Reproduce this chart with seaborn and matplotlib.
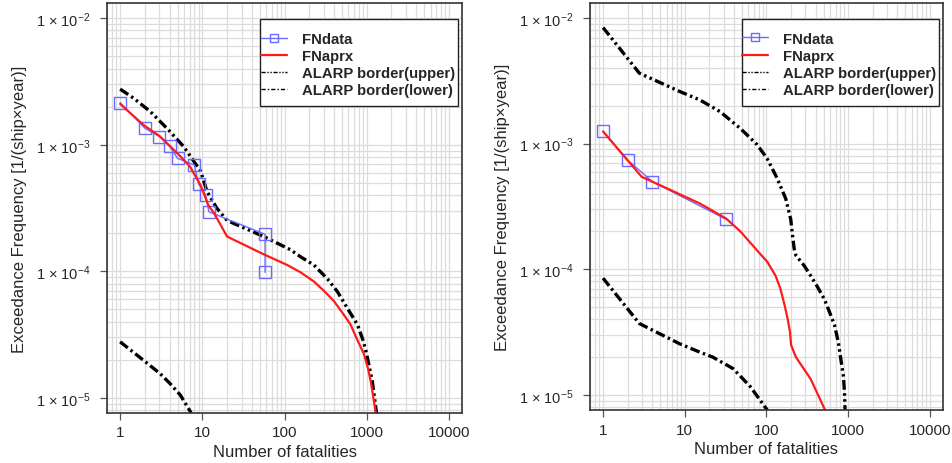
import numpy as np
import pandas as pd
import matplotlib
matplotlib.use("Agg")
import matplotlib.pyplot as plt
from matplotlib.lines import Line2D
from matplotlib.patches import Rectangle
from matplotlib.ticker import LogLocator, NullFormatter
import seaborn as sns

# ---------------- data ----------------
# Left panel
fn_x_left = [1, 2, 3, 4, 5, 8, 9, 11, 12, 58, 58]
fn_y_left = [2.15e-3, 1.35e-3, 1.16e-3, 9.7e-4, 7.8e-4, 6.9e-4, 4.9e-4, 4.0e-4, 2.95e-4, 1.96e-4, 9.8e-5]

aprx_x_left = [1, 1.93, 3.07, 4.07, 5.4, 7.1, 9.5, 11.9, 13.8, 20, 56, 108, 157, 228, 302, 400,
               531, 635, 771, 930, 1038, 1120, 1200, 1295]
aprx_y_left = [2.1e-3, 1.43e-3, 1.16e-3, 9.7e-4, 8.1e-4, 6.7e-4, 4.8e-4, 3.3e-4, 2.9e-4, 1.88e-4,
               1.36e-4, 1.12e-4, 9.8e-5, 8.3e-5, 7.0e-5, 5.8e-5,
               4.5e-5, 3.8e-5, 2.86e-5, 2.2e-5, 1.7e-5, 1.35e-5, 1.02e-5, 7.5e-6]

upper_x_left = [1, 1.46, 2.32, 3.7, 5.9, 9.5, 11.4, 15, 20, 56, 118, 157, 228, 333, 440, 582,
                770, 912, 1000, 1170, 1320]
upper_y_left = [2.75e-3, 2.33e-3, 1.83e-3, 1.35e-3, 9.7e-4, 6.2e-4, 4.27e-4, 3.15e-4, 2.52e-4, 1.88e-4,
                1.48e-4, 1.3e-4, 1.12e-4, 8.7e-5, 6.9e-5, 5.1e-5,
                3.8e-5, 2.8e-5, 2.2e-5, 1.35e-5, 7.5e-6]

lower_x_left = [1, 1.92, 3.07, 4.07, 5.4, 7.3]
lower_y_left = [2.77e-5, 1.98e-5, 1.55e-5, 1.29e-5, 1.05e-5, 7.6e-6]

# Right panel
fn_x_right = [1, 2, 4, 32]
fn_y_right = [1.26e-3, 7.4e-4, 5.0e-4, 2.5e-4]

aprx_x_right = [1, 1.95, 2.97, 15.3, 32, 48, 80, 102, 129, 148, 167, 182, 194, 200, 229, 347, 520]
aprx_y_right = [1.25e-3, 7.5e-4, 5.45e-4, 3.34e-4, 2.54e-4, 2.0e-4, 1.37e-4, 1.15e-4, 8.9e-5, 7.0e-5,
                5.15e-5, 4.0e-5, 3.16e-5, 2.5e-5, 2.0e-5, 1.34e-5, 7.6e-6]

upper_x_right = [1, 2.78, 8.7, 15.3, 27, 48, 77, 102, 135, 172, 198, 207, 218, 229, 289, 347, 423,
                 510, 588, 680, 759, 815, 875, 900, 915]
upper_y_right = [8.4e-3, 3.64e-3, 2.6e-3, 2.23e-3, 1.8e-3, 1.32e-3, 9.8e-4, 7.6e-4, 5.3e-4, 3.65e-4,
                 2.5e-4, 1.92e-4, 1.46e-4, 1.29e-4, 1.07e-4, 8.9e-5, 7.2e-5,
                 5.8e-5, 4.6e-5, 3.6e-5, 2.6e-5, 1.9e-5, 1.4e-5, 1.05e-5, 7.6e-6]

lower_x_right = [1, 2.78, 8.7, 15.3, 22, 39, 63, 102]
lower_y_right = [8.5e-5, 3.7e-5, 2.55e-5, 2.19e-5, 2.0e-5, 1.62e-5, 1.17e-5, 7.6e-6]

x_ticks = [1, 10, 100, 1000, 10000]
x_tick_labels = ["1", "10", "100", "1000", "10000"]
y_ticks = [1e-5, 1e-4, 1e-3, 1e-2]
y_tick_labels = ["1 \u00d7 10$^{-5}$", "1 \u00d7 10$^{-4}$", "1 \u00d7 10$^{-3}$", "1 \u00d7 10$^{-2}$"]

legend_labels = ["FNdata", "FNaprx", "ALARP border(upper)", "ALARP border(lower)"]
x_label = "Number of fatalities"
y_label = "Exceedance Frequency [1/(ship\u00d7year)]"

# ---------------- style ----------------
sns.set_theme(style="white")
plt.rcParams["font.family"] = ["Liberation Sans", "DejaVu Sans"]
plt.rcParams["mathtext.fontset"] = "custom"
plt.rcParams["mathtext.rm"] = "Liberation Sans"
plt.rcParams["mathtext.it"] = "Liberation Sans:italic"
plt.rcParams["mathtext.bf"] = "Liberation Sans:bold"
plt.rcParams["mathtext.default"] = "regular"
plt.rcParams["lines.scale_dashes"] = False

BLUE = "#6b6bff"
RED = "#ff1a1a"
TXT = "#262626"
UPPER_LS = (0, (7, 2.5, 1.8, 2.5, 1.8, 2.5))
LOWER_LS = (0, (7, 2.5, 1.8, 2.5))

fig = plt.figure(figsize=(9.53, 4.64), dpi=100)
ax_l = fig.add_axes([0.1123, 0.1078, 0.3725, 0.8836])
ax_r = fig.add_axes([0.6191, 0.1142, 0.3704, 0.8772])

panels = [
    (ax_l, fn_x_left, fn_y_left, aprx_x_left, aprx_y_left, upper_x_left, upper_y_left, lower_x_left, lower_y_left),
    (ax_r, fn_x_right, fn_y_right, aprx_x_right, aprx_y_right, upper_x_right, upper_y_right, lower_x_right, lower_y_right),
]

for ax, fx, fy, ax_x, ax_y, ux, uy, lx, ly in panels:
    ax.set_xscale("log")
    ax.set_yscale("log")
    ax.set_xlim(10 ** -0.16, 10 ** 4.16)
    ax.set_ylim(10 ** -5.12, 10 ** -1.88)

    ax.xaxis.set_minor_locator(LogLocator(base=10, subs=np.arange(2, 10)))
    ax.yaxis.set_minor_locator(LogLocator(base=10, subs=np.arange(2, 10)))
    ax.xaxis.set_minor_formatter(NullFormatter())
    ax.yaxis.set_minor_formatter(NullFormatter())
    ax.grid(which="both", color="#dcdcdc", lw=0.9)
    ax.set_axisbelow(True)

    sns.lineplot(x=ux, y=uy, ax=ax, sort=False, estimator=None, color="black", lw=2.4,
                 linestyle=UPPER_LS, legend=False)
    sns.lineplot(x=lx, y=ly, ax=ax, sort=False, estimator=None, color="black", lw=2.4,
                 linestyle=LOWER_LS, legend=False)
    sns.lineplot(x=fx, y=fy, ax=ax, sort=False, estimator=None, color=BLUE, lw=1.0,
                 marker="s", markersize=8, markerfacecolor="none", markeredgecolor=BLUE,
                 markeredgewidth=1.0, legend=False)
    sns.lineplot(x=ax_x, y=ax_y, ax=ax, sort=False, estimator=None, color=RED, lw=1.6, legend=False)

    ax.set_xticks(x_ticks)
    ax.set_xticklabels(x_tick_labels)
    ax.set_yticks(y_ticks)
    ax.set_yticklabels(y_tick_labels)
    ax.tick_params(which="major", length=5, width=0.9, color="#555555", labelsize=11,
                   labelcolor=TXT, pad=4, bottom=True, left=True)
    ax.tick_params(axis="y", which="major", labelsize=10.5, pad=7)
    ax.tick_params(which="minor", length=0)
    ax.set_xlabel(x_label, fontsize=12, color=TXT, labelpad=3)
    ax.set_ylabel(y_label, fontsize=12, color=TXT, labelpad=6)
    for sp in ax.spines.values():
        sp.set_color("#333333")
        sp.set_linewidth(1.2)
        sp.set_visible(True)

    # legend frame (R-style tight box)
    ax.add_patch(Rectangle((0.431, 0.748), 0.559, 0.213, transform=ax.transAxes,
                           facecolor="white", edgecolor="#222222", lw=1.0, zorder=4.8))
    handles = [
        Line2D([], [], color=BLUE, lw=1.0, marker="s", markersize=6, markerfacecolor="none"),
        Line2D([], [], color=RED, lw=1.6),
        Line2D([], [], color="black", lw=1.0, linestyle=(0, (3, 1.2, 1, 1.2, 1, 1.2))),
        Line2D([], [], color="black", lw=1.0, linestyle=(0, (3, 1.5, 1, 1.5))),
    ]
    leg = ax.legend(handles, legend_labels, loc="upper right", bbox_to_anchor=(1.011, 0.956),
                    borderaxespad=0, frameon=False,
                    handlelength=1.75, handletextpad=1.0, labelspacing=0.21,
                    borderpad=0.72, prop={"size": 10.7, "weight": "bold"})
    leg.set_zorder(5)
    for t in leg.get_texts():
        t.set_color(TXT)

fig.savefig("out.png", dpi=100)
